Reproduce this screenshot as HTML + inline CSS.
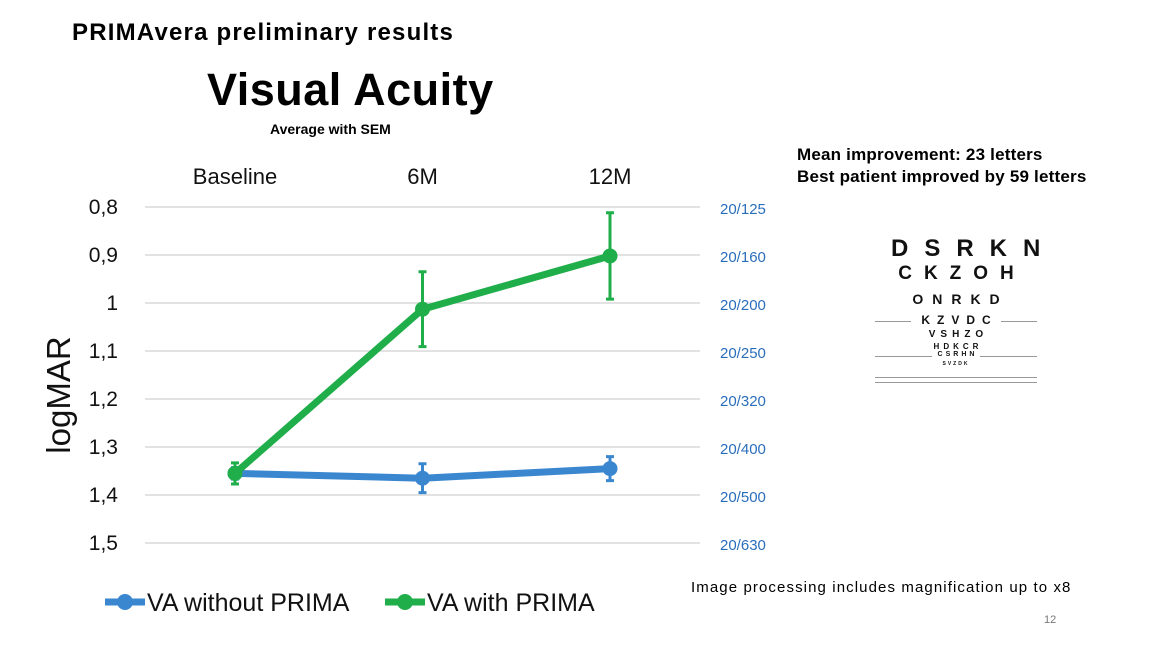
<!DOCTYPE html>
<html><head><meta charset="utf-8"><style>
body{margin:0;width:1152px;height:650px;background:#fff;font-family:"Liberation Sans",sans-serif;position:relative;overflow:hidden}
.a{position:absolute;white-space:nowrap}
.eye{position:absolute;left:0;width:100%;box-sizing:border-box;text-align:center;font-weight:bold;color:#111;white-space:nowrap}
</style></head><body>
<div class="a" style="left:72px;top:19px;font-size:24px;font-weight:bold;letter-spacing:1.2px">PRIMAvera preliminary results</div>
<div class="a" style="left:207px;top:64px;font-size:45px;font-weight:bold;letter-spacing:0.5px">Visual Acuity</div>
<div class="a" style="left:270px;top:121px;font-size:14px;font-weight:bold">Average with SEM</div>
<div class="a" style="left:797px;top:144px;font-size:17px;font-weight:bold;line-height:22px;letter-spacing:0.2px">Mean improvement: 23 letters<br>Best patient improved by 59 letters</div>
<div class="a" style="left:691px;top:579px;font-size:15px;letter-spacing:1.1px">Image processing includes magnification up to x8</div>
<div class="a" style="left:1044px;top:614px;font-size:11px;color:#777">12</div>
<div style="position:absolute;left:875px;top:235px;width:162px;height:150px">
 <div class="eye" style="top:0;font-size:24px;letter-spacing:16px;padding-left:16px">DSRKN</div>
 <div class="eye" style="top:28px;font-size:19px;letter-spacing:12px;padding-left:12px">CKZOH</div>
 <div class="eye" style="top:56px;font-size:14px;letter-spacing:9px;padding-left:9px">ONRKD</div>
 <div style="position:absolute;top:86px;left:0;width:100%;border-top:1px solid #999"></div>
 <div class="eye" style="top:78px;font-size:12px;letter-spacing:7px"><span style="background:#fff;padding:0 3px 0 10px">KZVDC</span></div>
 <div class="eye" style="top:94px;font-size:10px;letter-spacing:5px;padding-left:5px">VSHZO</div>
 <div class="eye" style="top:107px;font-size:8px;letter-spacing:4px;padding-left:4px">HDKCR</div>
 <div style="position:absolute;top:121px;left:0;width:100%;border-top:1px solid #999"></div>
 <div class="eye" style="top:116px;font-size:7px;letter-spacing:3px"><span style="background:#fff;padding:0 3px 0 6px">CSRHN</span></div>
 <div class="eye" style="top:126px;font-size:5px;letter-spacing:2px">SVZDK</div>
 <div style="position:absolute;top:142px;left:0;width:100%;border-top:1px solid #999"></div>
 <div style="position:absolute;top:147px;left:0;width:100%;border-top:1px solid #999"></div>
</div>
<svg id="chart" width="1152" height="650" style="position:absolute;left:0;top:0"></svg>
<script>
const categories=["Baseline","6M","12M"];
const withoutPrima=[1.355,1.365,1.345];
const withoutPrimaErr=[0.012,0.03,0.025];
const withPrima=[1.355,1.013,0.902];
const withPrimaErr=[0.022,0.078,0.09];
const yTicks=[0.8,0.9,1.0,1.1,1.2,1.3,1.4,1.5];
const yTickLabels=["0,8","0,9","1","1,1","1,2","1,3","1,4","1,5"];
const snellenLabels=["20/125","20/160","20/200","20/250","20/320","20/400","20/500","20/630"];
const NS="http://www.w3.org/2000/svg",svg=document.getElementById('chart');
function y(v){return 207+(v-0.8)/0.7*336;}
function x(i){return 235+i*187.5;}
function el(t,a,txt){const e=document.createElementNS(NS,t);for(const k in a)e.setAttribute(k,a[k]);if(txt!==undefined)e.textContent=txt;svg.appendChild(e);return e;}
yTicks.forEach((v,i)=>{
 let g=el('line',{x1:145,x2:700,y1:y(v),y2:y(v),stroke:'#d0d0d0','stroke-width':1.3});
 
 let t=el('text',{x:118,y:y(v)+7,'text-anchor':'end','font-size':21,fill:'#111'},yTickLabels[i]);
 
 let s=el('text',{x:720,y:y(v)+7,'font-size':15,fill:'#2a6ebb'},snellenLabels[i]);
 
});
categories.forEach((c,i)=>{
 let t=el('text',{x:x(i),y:184,'text-anchor':'middle','font-size':22,fill:'#111'},c);
 
});
let yt=el('text',{transform:'translate(70,395) rotate(-90)','text-anchor':'middle','font-size':33,fill:'#111'},'logMAR');

function series(vals,errs,color,name){
 let p=el('polyline',{points:vals.map((v,i)=>x(i)+','+y(v)).join(' '),fill:'none',stroke:color,'stroke-width':7,'stroke-linejoin':'round'});
 
 vals.forEach((v,i)=>{
  let e=el('path',{d:`M${x(i)},${y(v-errs[i])}V${y(v+errs[i])}M${x(i)-4},${y(v-errs[i])}h8M${x(i)-4},${y(v+errs[i])}h8`,stroke:color,'stroke-width':3,fill:'none'});
  
  let c=el('circle',{cx:x(i),cy:y(v),r:7.5,fill:color});
  
 });
}
series(withoutPrima,withoutPrimaErr,'#3a87d0','va-without-prima');
series(withPrima,withPrimaErr,'#1fae4a','va-with-prima');
[['#3a87d0','VA without PRIMA',105],['#1fae4a','VA with PRIMA',385]].forEach(([c,l,lx])=>{
 let g=el('line',{x1:lx,x2:lx+40,y1:602,y2:602,stroke:c,'stroke-width':7});
 
 let ci=el('circle',{cx:lx+20,cy:602,r:8,fill:c});
 
 let t=el('text',{x:lx+42,y:611,'font-size':25,fill:'#111'},l);
 
});
</script>
</body></html>
